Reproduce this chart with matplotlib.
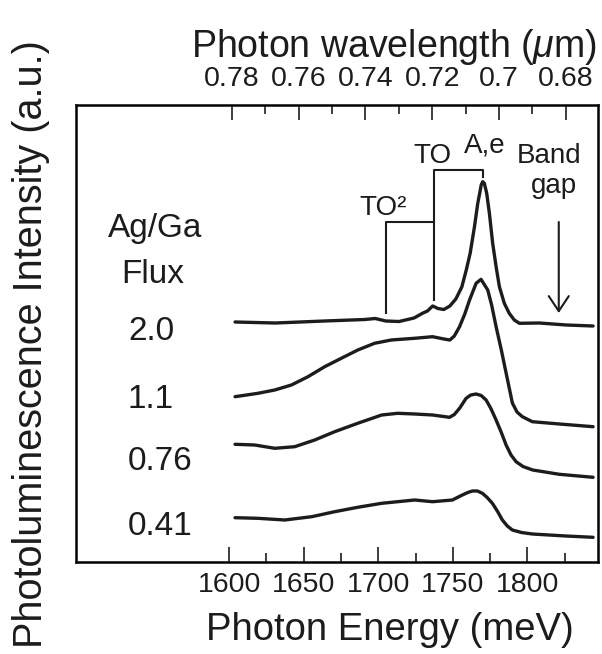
import numpy as np
import matplotlib
matplotlib.use('Agg')
import matplotlib.pyplot as plt

plt.rcParams['font.family'] = ['Liberation Sans', 'DejaVu Sans']
plt.rcParams['mathtext.fontset'] = 'custom'
plt.rcParams['mathtext.rm'] = 'Liberation Sans'
plt.rcParams['mathtext.it'] = 'Liberation Sans:italic'

ink = '#1c1c1c'

# PL spectra, photon energy (meV) vs offset intensity (a.u.)
flux_labels = ['2.0', '1.1', '0.76', '0.41']

e_20 = [1604, 1631, 1664, 1691, 1698, 1705, 1714, 1724, 1730, 1733, 1736.5, 1740, 1744,
        1748, 1752, 1756, 1759, 1761.6, 1764.5, 1766.7, 1768, 1769, 1770, 1771.1, 1772.7,
        1774.5, 1776.7, 1779, 1781.2, 1784.5, 1787.8, 1791.2, 1794.6, 1808, 1826, 1844]
i_20 = [240, 239, 241, 242.5, 243.5, 241, 240.5, 244, 249, 251, 256, 253.5, 252.5,
        256, 263, 275, 292, 308.7, 335.3, 358.7, 368.7, 377, 380.3, 378.7, 368.7,
        348.7, 318.7, 295.3, 275.3, 258.7, 248.7, 242, 238.7, 239, 237, 236]

e_11 = [1604, 1619.4, 1630.6, 1641.8, 1652.9, 1664.1, 1675.2, 1686.3, 1697.5, 1708.7,
        1724.3, 1736.4, 1744, 1748, 1751, 1754.5, 1758, 1761.2, 1765.6, 1768.9, 1773.4,
        1776, 1779, 1782.5, 1785.7, 1789.9, 1793, 1796.6, 1803.3, 1821.4, 1844]
i_11 = [165.3, 168.7, 172, 177, 185.3, 195.3, 203.7, 212, 218.7, 222,
        223.7, 225.3, 223, 222, 226, 235.3, 248, 262, 278.7, 282.7, 272,
        257, 235.3, 212, 189, 159, 150, 145.3, 140.3, 138, 135.3]

e_076 = [1604, 1617.2, 1630.6, 1644, 1657.4, 1670.8, 1686.2, 1702.3, 1713, 1724.4,
         1736.4, 1747.8, 1751, 1754.5, 1758.9, 1762, 1765.6, 1769, 1772.3, 1775.5,
         1779, 1782.5, 1785.7, 1789, 1792.4, 1797, 1803.5, 1821.4, 1844]
i_076 = [117.7, 117, 113.7, 115.3, 122, 130.3, 138.7, 147, 148.7, 148,
         147, 144.7, 147.5, 153.7, 163.7, 167, 168, 166.5, 162, 153.5,
         142, 129.5, 117, 107, 100.3, 95.5, 92, 87.7, 84.7]

e_041 = [1604, 1619.2, 1637.3, 1655.4, 1670.8, 1686.2, 1702.3, 1724.4, 1736.4, 1749.7,
         1753, 1756.4, 1760, 1763.1, 1766.5, 1769.8, 1773, 1776.5, 1780, 1783.2,
         1786.5, 1789.9, 1796, 1803.3, 1825.8, 1844]
i_041 = [44.3, 43.7, 42, 45.3, 50.3, 54.7, 58.7, 62, 60.3, 62,
         64.5, 67, 69.5, 71, 71, 68.7, 64.5, 58.7, 50.5, 42,
         36, 32, 29.5, 28, 26, 24.7]

# peak assignments (meV)
peak_names = ['TO²', 'TO', 'A,e']
peak_energy = [1705, 1737.5, 1770]
band_gap = 1821

energy_ticks = [1600, 1650, 1700, 1750, 1800]
energy_minor = [1625, 1675, 1725, 1775, 1825]
wl_ticks = [0.78, 0.76, 0.74, 0.72, 0.70, 0.68]
wl_tick_labels = ['0.78', '0.76', '0.74', '0.72', '0.7', '0.68']
wl_minor = [0.77, 0.75, 0.73, 0.71, 0.69]

W, H = 602, 654
fig = plt.figure(figsize=(W / 100, H / 100), dpi=100)
ax = fig.add_axes([76 / W, (H - 562) / H, (598 - 76) / W, (562 - 105) / H])

for e, i in [(e_20, i_20), (e_11, i_11), (e_076, i_076), (e_041, i_041)]:
    ax.plot(e, i, color=ink, lw=2.4, solid_joinstyle='round', solid_capstyle='round')

ax.set_xlim(1497.4, 1847.3)
ax.set_ylim(0, 457)
ax.set_yticks([])
ax.set_xticks(energy_ticks)
ax.set_xticks(energy_minor, minor=True)
ax.tick_params(axis='x', which='major', direction='in', length=10.5, width=1.2,
               labelsize=20.5, pad=7, colors=ink)
ax.tick_params(axis='x', which='minor', direction='in', length=6.5, width=1.2, colors=ink)
for s in ax.spines.values():
    s.set_linewidth(1.9)
    s.set_color(ink)

top = ax.twiny()
top.set_xlim(0.8266, 0.6704)
top.set_xticks(wl_ticks)
top.set_xticklabels(wl_tick_labels)
top.set_xticks(wl_minor, minor=True)
top.tick_params(axis='x', which='major', direction='in', length=10.5, width=1.2,
                labelsize=20.5, pad=9, colors=ink)
top.tick_params(axis='x', which='minor', direction='in', length=6.5, width=1.2, colors=ink)

# peak brackets
lw_b = 1.5
ax.plot([peak_energy[0]] * 2 + [peak_energy[1]], [249, 340.3, 340.3], color=ink, lw=lw_b)
ax.plot([peak_energy[1]] * 2 + [peak_energy[2]] * 2, [262, 392, 392, 385], color=ink, lw=lw_b)
ax.text(1702.9, 347, peak_names[0], ha='center', va='baseline', fontsize=20, color=ink)
ax.text(1736.2, 399, peak_names[1], ha='center', va='baseline', fontsize=20, color=ink)
ax.text(1771.7, 409, peak_names[2], ha='center', va='baseline', fontsize=20, color=ink)

ax.text(1814.7, 399, 'Band', ha='center', va='baseline', fontsize=20, color=ink)
ax.text(1817.5, 369, 'gap', ha='center', va='baseline', fontsize=20, color=ink)
ax.annotate('', xy=(band_gap, 249), xytext=(band_gap, 340),
            arrowprops=dict(arrowstyle='->,head_length=0.45,head_width=0.3',
                            mutation_scale=24, color=ink, lw=1.5,
                            shrinkA=0, shrinkB=0))

# legend-like labels on the left
def px(x, y):
    return x / W, 1 - y / H

fig.text(*px(155, 237), 'Ag/Ga', ha='center', va='baseline', fontsize=24, color=ink)
fig.text(*px(153, 283), 'Flux', ha='center', va='baseline', fontsize=24, color=ink)
for lab, yb in zip(flux_labels, [340, 408, 470, 535]):
    fig.text(*px(128, yb), lab, ha='left', va='baseline', fontsize=24, color=ink)

fig.text(*px(394, 57), r'Photon wavelength ($\mu$m)', ha='center', va='baseline',
         fontsize=27, color=ink)
fig.text(*px(390, 640), 'Photon Energy (meV)', ha='center', va='baseline',
         fontsize=27.5, color=ink)
fig.text(*px(42, 344), 'Photoluminescence Intensity (a.u.)', rotation=90,
         rotation_mode='anchor', ha='center', va='baseline', fontsize=28.5, color=ink)

fig.savefig('out.png', dpi=100)
